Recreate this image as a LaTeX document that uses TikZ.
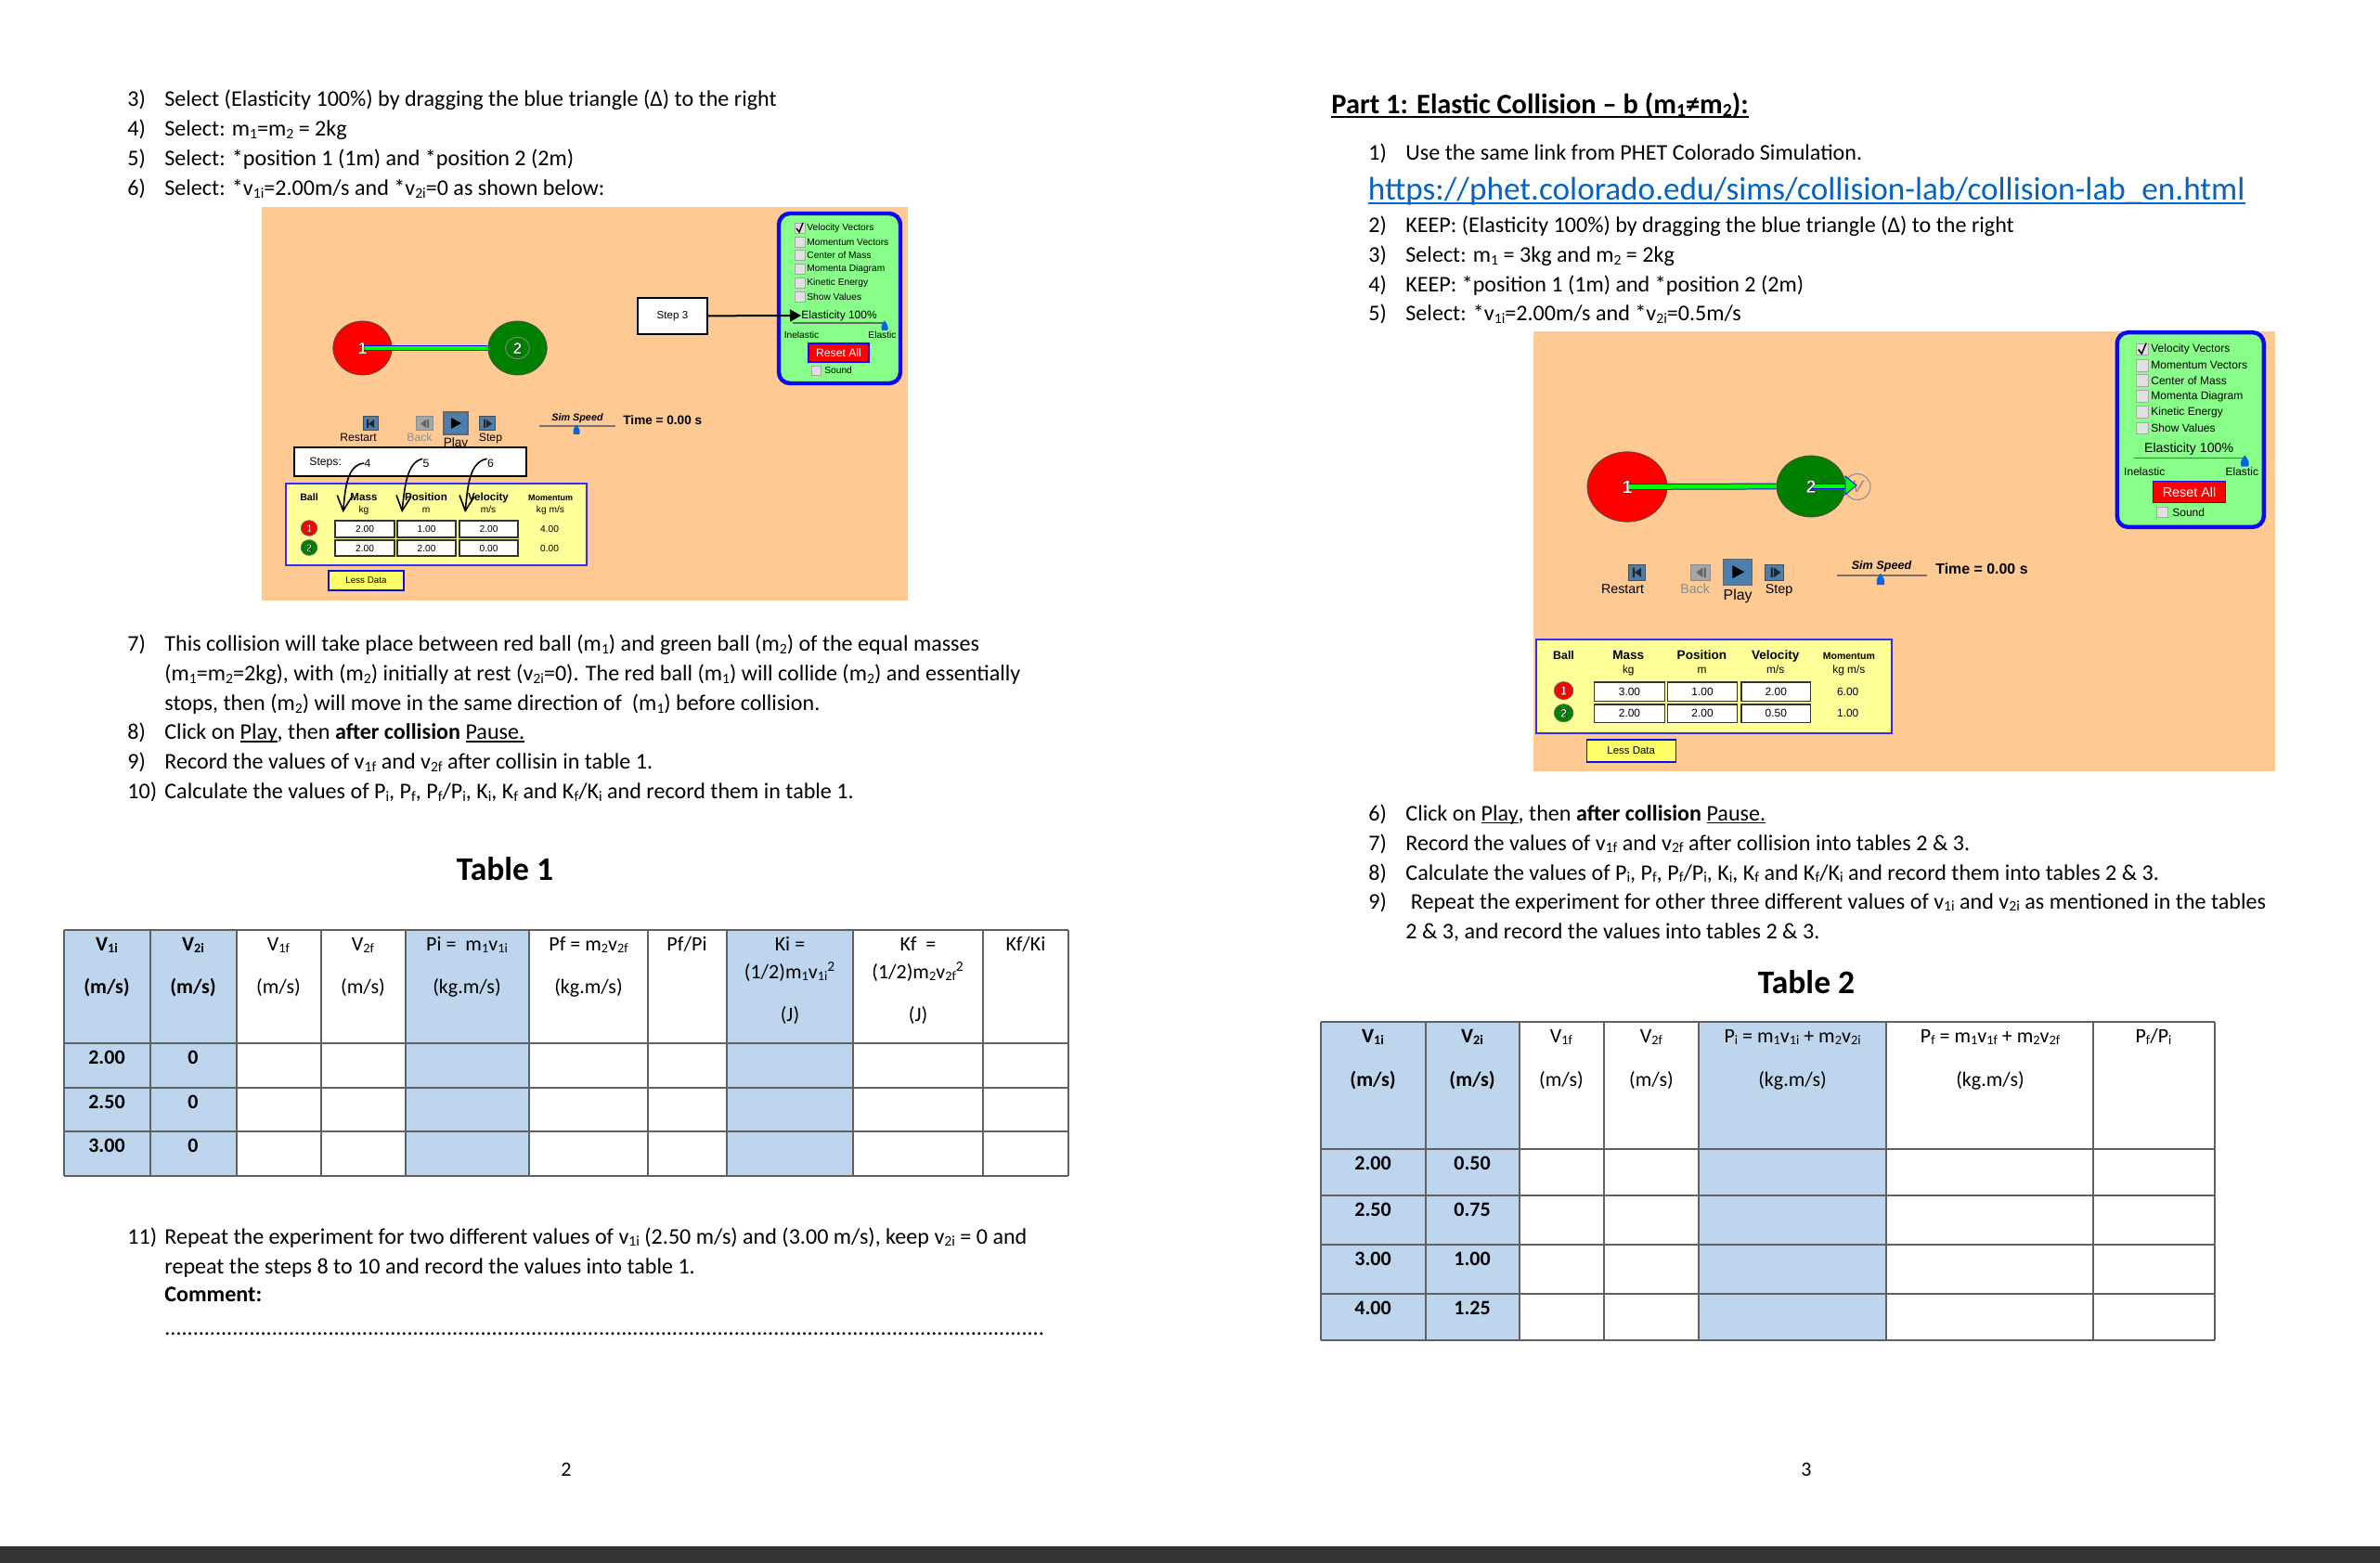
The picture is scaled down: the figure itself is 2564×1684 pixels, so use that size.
\documentclass[tikz,border=0pt]{standalone}
\usepackage{fontspec}
\setmainfont{Carlito}
\newfontfamily\simfont{Liberation Sans}
\usetikzlibrary{arrows.meta,shapes.geometric}

\definecolor{simorange}{HTML}{FFC993}
\definecolor{simgreen}{HTML}{88FF88}
\definecolor{simblue}{HTML}{0A0AF0}
\definecolor{databorder}{HTML}{3030EE}
\definecolor{datayellow}{HTML}{FFFF99}
\definecolor{btnyellow}{HTML}{FFFF66}
\definecolor{thumbblue}{HTML}{0A64E0}
\definecolor{iconblue}{HTML}{4C7FAE}
\definecolor{cellblue}{HTML}{BDD6EE}
\definecolor{linkblue}{HTML}{0563C1}
\definecolor{gridgrey}{HTML}{606060}
\definecolor{barblack}{HTML}{333333}

\def\simk{1}
\makeatletter
\newcommand{\lo}[1]{\raisebox{-0.22ex}{\fontsize{\fpeval{\f@size*0.65}}{8}\selectfont #1}}
\makeatother
\newcommand{\simsize}[1]{\fontsize{\fpeval{#1*\simk}}{10}\selectfont}
\newcommand{\wordline}[1]{\sbox0{#1}\rlap{\rule[-0.14em]{\wd0}{0.065em}}\box0}
\newcommand{\halo}[1]{\special{pdf:code 2 Tr 0.15 w 0 0 0 RG}#1\special{pdf:code 0 Tr}}

\tikzset{
	sim scale/.code = {\def\simk{#1}},
	 bodytext/.style = { anchor=base west, inner sep=0pt, font=\fontsize{12.05}{14}\selectfont },
	 celltext/.style = { anchor=base, inner sep=0pt, font=\fontsize{11}{13}\selectfont },
	 cellbold/.style = { anchor=base, inner sep=0pt, font=\fontsize{11}{13}\selectfont\bfseries },
	titletext/.style = { anchor=base, inner sep=0pt, font=\fontsize{17.8}{20}\selectfont\bfseries },
	  simtiny/.style = { inner sep=0pt, font=\simfont\simsize{4.5}\bfseries },
	 simsmall/.style = { inner sep=0pt, font=\simfont\simsize{5.1} },
	   simmid/.style = { inner sep=0pt, font=\simfont\simsize{6.1} },
	   simhead/.style = { anchor=base, inner sep=0pt, font=\simfont\simsize{5.8}\bfseries },
	   simbig/.style = { inner sep=0pt, font=\simfont\simsize{6.8}\bfseries },
	  simball/.style = { ellipse, draw=black!70, line width=0.4pt, inner sep=0pt },
	 simdigit/.style = { inner sep=0pt, text=white, font=\simfont\bfseries\fontsize{#1}{10}\selectfont },
	 gridline/.style = { draw=gridgrey, line width=0.55pt }
}

% slider thumb
\newcommand{\simthumb}[2]{
	\fill [thumbblue, rounded corners=0.5pt] (#1-3.5,#2-1) -- (#1,#2-7) -- (#1+3.5,#2-1) -- (#1+3.5,#2+4) -- (#1-3.5,#2+4) -- cycle;
}

% options box
\newcommand{\optionspanel}{
	\draw [draw=simblue, fill=simgreen, line width=2.2pt, rounded corners=6pt] (1,1) rectangle (132,184);
	\foreach \i/\y/\lab in {1/17/Velocity Vectors, 2/32/Momentum Vectors, 3/46/Center of Mass, 4/61/Momenta Diagram, 5/76/Kinetic Energy, 6/91/Show Values}{
		\filldraw [fill=black!12, draw=black!35, line width=0.4pt] (18,\y-5.5) rectangle (29,\y+5.5);
		\node (opt\i) at (31,\y) [simsmall, anchor=west] {\lab};
	}
	\draw [line width=0.7pt] (20,17) -- (23,21) -- (27,11);
	\node (elast) at (25,111) [inner sep=0pt, anchor=west, font=\simfont\simsize{6}] {Elasticity 100\%};
	\draw [black!60, line width=0.7pt] (16,119) -- (116,119);
	\simthumb{115}{123}
	\node (inel) at (25.5,132) [simsmall] {Inelastic};
	\node (el) at (112.5,132) [simsmall] {Elastic};
	\draw [draw=simblue, fill=red, line width=0.6pt] (33,141) rectangle (98,161);
	\node (reset) at (65.5,151) [simmid, text=white] {Reset All};
	\filldraw [fill=black!12, draw=black!35, line width=0.4pt] (36,165) rectangle (46,175);
	\node (sound) at (50,170) [simsmall, anchor=west] {Sound};
}

% restart, back, play, step and speed
\newcommand{\controlsrow}{
	\filldraw [fill=iconblue, draw=black!70, line width=0.5pt] (0,0) rectangle (16,15);
	\fill [black!85] (4,3) rectangle (6,12) (12,3) -- (12,12) -- (6,7.5) -- cycle;
	\filldraw [fill=black!35, draw=black!45, line width=0.5pt] (57,0) rectangle (75,15);
	\fill [black!60] (69,3) rectangle (71,12) (68,3) -- (68,12) -- (62,7.5) -- cycle;
	\filldraw [fill=iconblue, draw=black!60, line width=0.6pt] (87,-5) rectangle (113,19);
	\fill [black] (95,1) -- (95,13) -- (106,7) -- cycle;
	\filldraw [fill=iconblue, draw=black!70, line width=0.5pt] (125,0) rectangle (142,15);
	\fill [black!85] (130,3) rectangle (132,12) (133,3) -- (133,12) -- (139,7.5) -- cycle;
	\node (restart) at (-5,27) [simmid, anchor=base] {Restart};
	\node (back) at (61,27) [simmid, anchor=base, text=black!45] {Back};
	\node (play) at (100,33) [anchor=base, inner sep=0pt, font=\simfont\simsize{6.8}] {Play};
	\node (stepbtn) at (137.5,27) [simmid, anchor=base] {Step};
	\node (speed) at (231,5) [anchor=base, inner sep=0pt, font=\simfont\simsize{5.4}\bfseries\itshape] {Sim Speed};
	\draw [black!55, line width=0.8pt] (190,10) -- (272,10);
	\simthumb{230}{15}
	\node (time) at (280,4) [simbig, anchor=west] {Time = 0.00 s};
}

% data box: mass, position, velocity, momentum of the two balls
\newcommand{\datapanel}[8]{
	\filldraw [draw=databorder, fill=datayellow, line width=1.4pt] (0,0) rectangle (324,88);
	\node (hball) at (25,19) [simhead, font=\simfont\simsize{5.3}\bfseries] {Ball};
	\node (hmass) at (84,19) [simhead] {Mass};
	\node (hpos) at (151,19) [simhead] {Position};
	\node (hvel) at (218,19) [simhead] {Velocity};
	\node (hmom) at (285,18.5) [simtiny, anchor=base] {Momentum};
	\node (ukg) at (84,31.5) [simsmall, anchor=base] {kg};
	\node (um) at (151,31.5) [simsmall, anchor=base] {m};
	\node (ums) at (218,31.5) [simsmall, anchor=base] {m/s};
	\node (ukgms) at (285,31.5) [simsmall, anchor=base] {kg m/s};
	\foreach \x/\w in {53/117, 120/183, 187/250}{
		\draw [fill=white, line width=0.6pt, draw=black!80] (\x,40) rectangle (\w,58);
		\draw [fill=white, line width=0.6pt, draw=black!80] (\x,61) rectangle (\w,78);
	}
	\filldraw [fill=red, draw=black!60, line width=0.4pt] (25,48) ellipse [x radius=8.7, y radius=8.3];
	\filldraw [fill=green!50!black, draw=black!60, line width=0.4pt] (25,69) ellipse [x radius=8.7, y radius=8.3];
	\node (dotone) at (25,48) [inner sep=0pt, text=white, font=\simfont\bfseries\simsize{5.5}] {\halo{1}};
	\node (dottwo) at (25,69) [inner sep=0pt, text=white, font=\simfont\bfseries\simsize{5.5}] {\halo{2}};
	\node (ma) at (85,49) [simsmall] {#1};
	\node (pa) at (151.5,49) [simsmall] {#2};
	\node (va) at (218.5,49) [simsmall] {#3};
	\node (qa) at (284,49) [simsmall] {#4};
	\node (mb) at (85,69.5) [simsmall] {#5};
	\node (pb) at (151.5,69.5) [simsmall] {#6};
	\node (vb) at (218.5,69.5) [simsmall] {#7};
	\node (qb) at (284,69.5) [simsmall] {#8};
	\filldraw [draw=simblue, fill=btnyellow, line width=0.6pt] (46,94) rectangle (127,115);
	\node (less) at (86.5,104.5) [inner sep=0pt, font=\simfont\simsize{4.9}] {Less Data};
}

% number and text of one list line
\newcommand{\listline}[5]{
	\node (#1n) at (#2,#3) [bodytext] {#4};
	\node (#1t) at (#2+40,#3) [bodytext] {#5};
}

\begin{document}
\begin{tikzpicture}
[
	              x = 0.5pt,
	              y = -0.5pt
]
	\useasboundingbox (0,0) rectangle (2564,1684);
	\fill [white] (0,0) rectangle (2564,1684);
	\fill [barblack] (0,1666) rectangle (2564,1684);

	% left page text
	\listline{a3}{137}{115}{3)}{Select (Elasticity 100\%) by dragging the blue triangle (Δ) to the right}
	\listline{a4}{137}{147}{4)}{Select: m\lo{1}=m\lo{2} = 2kg}
	\listline{a5}{137}{179}{5)}{Select: *position 1 (1m) and *position 2 (2m)}
	\listline{a6}{137}{211}{6)}{Select: *v\lo{1i}=2.00m/s and *v\lo{2i}=0 as shown below:}

	% left simulation
	\fill [simorange] (282,223) rectangle (978,647);
	\node (lred) at (390.5,375) [simball, fill=red, minimum width=31.7pt, minimum height=29pt] {};
	\node (lgreen) at (557.5,375) [simball, fill=green!50!black, minimum width=31.7pt, minimum height=29pt] {};
	\draw [green, line width=2pt, preaction={draw=simblue, line width=3pt}] (lred.center) -- (lgreen.west);
	\node (lredno) at (lred) [simdigit=8.8] {\halo{1}};
	\node (lgreenno) at (lgreen) [simdigit=8.8] {\halo{2}};
	\draw [black!45, line width=0.4pt] (lgreen) ellipse [x radius=13, y radius=11.7];
	\begin{scope}[shift={(838,229)}, name prefix=lo-]
		\optionspanel
	\end{scope}
	\node (stepthree) at (724.5,340.5) [draw=black, fill=white, line width=0.8pt, minimum width=37.5pt, minimum height=19.5pt, inner sep=0pt, font=\simfont\simsize{5.8}] {Step 3\hspace{4.5pt}};
	\draw [-{Triangle[length=6pt, width=6.5pt]}, line width=1pt] (stepthree) -- (lo-elast.west);
	\begin{scope}[shift={(391,449)}, name prefix=lc-]
		\controlsrow
	\end{scope}
	\begin{scope}[shift={(308,521)}, name prefix=ld-]
		\datapanel{2.00}{1.00}{2.00}{4.00}{2.00}{2.00}{0.00}{0.00}
	\end{scope}
	\node (stepsbox) at (442,497.5) [draw=black, fill=white, line width=0.8pt, minimum width=125pt, minimum height=15.5pt] {};
	\node (stepslbl) at (333,499) [simmid, anchor=west] {Steps:};
	\node (stepfour) at (396,499) [simmid] {4};
	\node (stepfive) at (459,499) [simmid] {5};
	\node (stepsix) at (528.5,499) [simmid] {6};
	\coordinate (massin) at (369.6,552);
	\coordinate (posin) at (433,552);
	\coordinate (velin) at (501,552);
	\draw [-{Straight Barb[length=8pt, width=8pt]}, line width=0.8pt] (stepfour.west) .. controls (374,501) and (372,525) .. (massin);
	\draw [-{Straight Barb[length=8pt, width=8pt]}, line width=0.8pt] (stepfive.north west) .. controls (438,498) and (436,525) .. (posin);
	\draw [-{Straight Barb[length=8pt, width=8pt]}, line width=0.8pt] (stepsix.north west) .. controls (505,498) and (504,525) .. (velin);

	% left page lower text
	\listline{a7}{137}{701.5}{7)}{This collision will take place between red ball (m\lo{1}) and green ball (m\lo{2}) of the equal masses}
	\node (a7b) at (177,733.5) [bodytext] {(m\lo{1}=m\lo{2}=2kg), with (m\lo{2}) initially at rest (v\lo{2i}=0). The red ball (m\lo{1}) will collide (m\lo{2}) and essentially};
	\node (a7c) at (177,765.5) [bodytext] {stops, then (m\lo{2}) will move in the same direction of ~(m\lo{1}) before collision.};
	\listline{a8}{137}{796.5}{8)}{Click on \wordline{Play}, then \textbf{after collision} \wordline{Pause.}}
	\listline{a9}{137}{828.5}{9)}{Record the values of v\lo{1f} and v\lo{2f} after collisin in table 1.}
	\listline{a10}{137}{860.5}{10)}{Calculate the values of P\lo{i}, P\lo{f}, P\lo{f}/P\lo{i}, K\lo{i}, K\lo{f} and K\lo{f}/K\lo{i} and record them in table 1.}
	\node (tabone) at (544,948.5) [titletext] {Table 1};

	% table 1
	\fill [cellblue] (68,1002) rectangle (255,1267) (437,1002) rectangle (570,1267) (783,1002) rectangle (919,1267);
	\foreach \x in {69,162,255,346,437,570,698,783,919,1059,1151}
		\draw [gridline] (\x,1002) -- (\x,1267);
	\foreach \y in {1002,1124,1172,1219,1267}
		\draw [gridline] (69,\y) -- (1151,\y);
	\node (t1a) at (115,1024) [cellbold] {V\lo{1i}};
	\node (t1b) at (208,1024) [cellbold] {V\lo{2i}};
	\node (t1c) at (300,1024) [celltext] {V\lo{1f}};
	\node (t1d) at (391,1024) [celltext] {V\lo{2f}};
	\node (t1e) at (503,1024) [celltext] {Pi = ~m\lo{1}v\lo{1i}};
	\node (t1f) at (634,1024) [celltext] {Pf = m\lo{2}v\lo{2f}};
	\node (t1g) at (740,1024) [celltext] {Pf/Pi};
	\node (t1h) at (851,1024) [celltext] {Ki =};
	\node (t1i) at (989,1024) [celltext] {Kf ~=};
	\node (t1j) at (1105,1024) [celltext] {Kf/Ki};
	\node (t1k) at (115,1070) [cellbold] {(m/s)};
	\node (t1l) at (208,1070) [cellbold] {(m/s)};
	\node (t1m) at (300,1070) [celltext] {(m/s)};
	\node (t1n) at (391,1070) [celltext] {(m/s)};
	\node (t1o) at (503,1070) [celltext] {(kg.m/s)};
	\node (t1p) at (634,1070) [celltext] {(kg.m/s)};
	\node (t1q) at (851,1054) [celltext] {(1/2)m\lo{1}v\lo{1i}\textsuperscript{2}};
	\node (t1r) at (989,1054) [celltext] {(1/2)m\lo{2}v\lo{2f}\textsuperscript{2}};
	\node (t1s) at (851,1100) [celltext] {(J)};
	\node (t1t) at (989,1100) [celltext] {(J)};
	\foreach \i/\y/\va in {1/1146/2.00, 2/1194/2.50, 3/1241/3.00}{
		\node (t1v\i) at (115,\y) [cellbold] {\va};
		\node (t1w\i) at (208,\y) [cellbold] {0};
	}

	\listline{a11}{137}{1340}{11)}{Repeat the experiment for two different values of v\lo{1i} (2.50 m/s) and (3.00 m/s), keep v\lo{2i} = 0 and}
	\node (a11b) at (177,1372) [bodytext] {repeat the steps 8 to 10 and record the values into table 1.};
	\node (comm) at (177,1402) [bodytext] {\textbf{Comment:}};
	\node (dots) at (177,1438) [bodytext] {............................................................................................................................................................};
	\node (pagetwo) at (610,1590) [celltext] {2};

	% right page text
	\node (head) at (1434,122.5) [bodytext, font=\fontsize{15.2}{17}\selectfont\bfseries] {\wordline{Part 1: Elastic Collision – b (m\lo{1}≠m\lo{2}):}};
	\listline{b1}{1474}{173}{1)}{Use the same link from PHET Colorado Simulation.}
	\node (url) at (1473.5,215.5) [bodytext, font=\fontsize{17.6}{20}\selectfont, text=linkblue] {\wordline{https://phet.colorado.edu/sims/collision-lab/collision-lab\_en.html}};
	\listline{b2}{1474}{251}{2)}{KEEP: (Elasticity 100\%) by dragging the blue triangle (Δ) to the right}
	\listline{b3}{1474}{283}{3)}{Select: m\lo{1} = 3kg and m\lo{2} = 2kg}
	\listline{b4}{1474}{315}{4)}{KEEP: *position 1 (1m) and *position 2 (2m)}
	\listline{b5}{1474}{346}{5)}{Select: *v\lo{1i}=2.00m/s and *v\lo{2i}=0.5m/s}

	% right simulation
	\fill [simorange] (1652,357) rectangle (2451,831);
	\node (rred) at (1753,524.5) [simball, fill=red, minimum width=43pt, minimum height=37.7pt] {};
	\node (rgreen) at (1951,524) [simball, fill=green!50!black, minimum width=37pt, minimum height=33pt] {};
	\node (vmark) at (2001,524.5) [circle, draw=black!45, line width=0.5pt, minimum size=14pt, inner sep=0pt, text=black!45, font=\simfont\itshape\simsize{9}] {V};
	\draw [green, line width=2.4pt, preaction={draw=simblue, line width=3.4pt}] (rred.center) -- (rgreen.west);
	\draw [green, line width=2.4pt, preaction={draw=simblue, line width=3.4pt}] (rgreen.center) -- (rgreen.east);
	\fill [green, draw=simblue, line width=0.4pt] (1988,513) -- (2000,523) -- (1988,533) -- cycle;
	\node (rredno) at (rred) [simdigit=9.8] {\halo{1}};
	\node (rgreenno) at (rgreen) [simdigit=9.8] {\halo{2}};
	\begin{scope}[shift={(2279.5,357)}, xscale=1.207, yscale=1.146, sim scale=1.18, name prefix=ro-]
		\optionspanel
	\end{scope}
	\begin{scope}[shift={(1754,608)}, xscale=1.182, yscale=1.17, sim scale=1.17, name prefix=rc-]
		\controlsrow
	\end{scope}
	\begin{scope}[shift={(1655,689)}, xscale=1.182, yscale=1.148, sim scale=1.17, name prefix=rd-]
		\datapanel{3.00}{1.00}{2.00}{6.00}{2.00}{2.00}{0.50}{1.00}
	\end{scope}

	% right page lower text
	\listline{b6}{1474}{884}{6)}{Click on \wordline{Play}, then \textbf{after collision} \wordline{Pause.}}
	\listline{b7}{1474}{916}{7)}{Record the values of v\lo{1f} and v\lo{2f} after collision into tables 2 \& 3.}
	\listline{b8}{1474}{948}{8)}{Calculate the values of P\lo{i}, P\lo{f}, P\lo{f}/P\lo{i}, K\lo{i}, K\lo{f} and K\lo{f}/K\lo{i} and record them into tables 2 \& 3.}
	\listline{b9}{1474}{979}{9)}{~Repeat the experiment for other three different values of v\lo{1i} and v\lo{2i} as mentioned in the tables}
	\node (b9b) at (1514,1011) [bodytext] {2 \& 3, and record the values into tables 2 \& 3.};
	\node (tabtwo) at (1946,1070.5) [titletext] {Table 2};

	% table 2
	\fill [cellblue] (1423,1101) rectangle (1637,1444) (1830,1101) rectangle (2032,1444);
	\foreach \x in {1423,1536,1637,1728,1830,2032,2255,2386}
		\draw [gridline] (\x,1101) -- (\x,1444);
	\foreach \y in {1101,1238,1288,1341,1394,1444}
		\draw [gridline] (1423,\y) -- (2386,\y);
	\node (t2a) at (1479,1123) [cellbold] {V\lo{1i}};
	\node (t2b) at (1586,1123) [cellbold] {V\lo{2i}};
	\node (t2c) at (1682,1123) [celltext] {V\lo{1f}};
	\node (t2d) at (1779,1123) [celltext] {V\lo{2f}};
	\node (t2e) at (1931,1123) [celltext] {P\lo{i} = m\lo{1}v\lo{1i} + m\lo{2}v\lo{2i}};
	\node (t2f) at (2144,1123) [celltext] {P\lo{f} = m\lo{1}v\lo{1f} + m\lo{2}v\lo{2f}};
	\node (t2g) at (2320,1123) [celltext] {P\lo{f}/P\lo{i}};
	\node (t2k) at (1479,1170) [cellbold] {(m/s)};
	\node (t2l) at (1586,1170) [cellbold] {(m/s)};
	\node (t2m) at (1682,1170) [celltext] {(m/s)};
	\node (t2n) at (1779,1170) [celltext] {(m/s)};
	\node (t2o) at (1931,1170) [celltext] {(kg.m/s)};
	\node (t2p) at (2144,1170) [celltext] {(kg.m/s)};
	\foreach \i/\y/\va/\vb in {1/1260/2.00/0.50, 2/1310/2.50/0.75, 3/1363/3.00/1.00, 4/1416/4.00/1.25}{
		\node (t2v\i) at (1479,\y) [cellbold] {\va};
		\node (t2w\i) at (1586,\y) [cellbold] {\vb};
	}
	\node (pagethree) at (1946,1590) [celltext] {3};
\end{tikzpicture}
\end{document}
